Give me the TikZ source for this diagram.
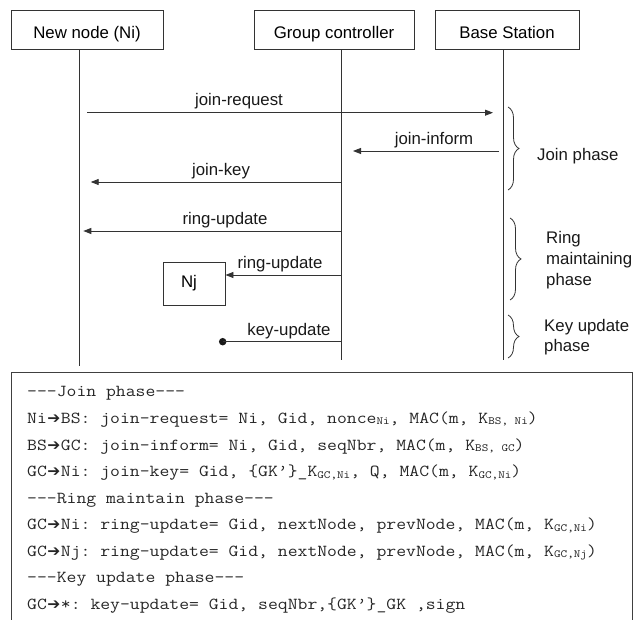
\documentclass[tikz,border=0pt]{standalone}
\usepackage{fontspec}
\setmainfont{Liberation Sans}
\setmonofont{Latin Modern Mono}[FakeStretch=1.14]
\newfontfamily\arrowfont{DejaVu Sans}
\usetikzlibrary{arrows.meta,decorations.pathreplacing}
\newcommand\myarr{\makebox[14pt][c]{\arrowfont\fontsize{15.5}{15.5}\selectfont ➔}}
\newcommand\subs[1]{\raisebox{-1.5pt}{\fontsize{11}{11}\selectfont #1}}
\begin{document}
\begin{tikzpicture}[x=1pt,y=-1pt,
  lc/.style={draw=black!80, line width=0.9pt},
  head/.style={draw=black!80, line width=0.9pt, minimum height=39pt, inner sep=0pt, text height=19pt, text depth=0pt, font=\fontsize{16.8}{20}\selectfont},
  msg/.style={draw=black!80, line width=0.9pt, -{Triangle[length=8pt,width=6pt]}},
  lbl/.style={font=\fontsize{16.8}{20}\selectfont, inner sep=0pt, text=black!90},
  mono/.style={anchor=base west, inner sep=0pt, font=\ttfamily\fontsize{16.8}{20}\selectfont, text=black!85},
  brc/.style={decorate, decoration={brace, amplitude=11pt}, draw=black!80, line width=0.8pt}
]
\useasboundingbox (0,0) rectangle (635,620);

% headers
\node[head, minimum width=152pt] (ni) at (87,29.5) {New node (Ni)};
\node[head, minimum width=160pt] (gc) at (334,29.5) {Group controller};
\node[head, minimum width=144pt] (bs) at (507,29.5) {Base Station};

% lifelines
\coordinate (niB) at (79.5,366);
\coordinate (gcB) at (341,360);
\coordinate (bsB) at (503,360);
\draw[lc] (niB |- ni.south) -- (niB);
\draw[lc] (gcB |- gc.south) -- (gcB);
\draw[lc] (bsB |- bs.south) -- (bsB);

% join-request
\coordinate (jrA) at (87,112.7); \coordinate (jrB) at (493,112.7);
\draw[msg] (jrA) -- (jrB);
\node[lbl, anchor=base] (jrL) at (239,106) {join-request};

% join-inform
\coordinate (jiA) at (499,151); \coordinate (jiB) at (353,151);
\draw[msg] (jiA) -- (jiB);
\node[lbl, anchor=base] (jiL) at (434,145) {join-inform};

% join-key
\coordinate (jkA) at (341,182); \coordinate (jkB) at (90.7,182);
\draw[msg] (jkA) -- (jkB);
\node[lbl, anchor=base] (jkL) at (221,176) {join-key};

% ring-update 1
\coordinate (r1A) at (341,231); \coordinate (r1B) at (83.3,231);
\draw[msg] (r1A) -- (r1B);
\node[lbl, anchor=base] (r1L) at (225,224.5) {ring-update};

% Nj and ring-update 2
\node[draw=black!80, line width=0.9pt, minimum width=62pt, minimum height=43pt, inner sep=0pt, font=\fontsize{16.8}{20}\selectfont] (nj) at (194,283.5) {\hspace*{-10pt}Nj};
\coordinate (r2A) at (341,275);
\draw[msg] (r2A) -- (r2A -| nj.east);
\node[lbl, anchor=base] (r2L) at (280,268.5) {ring-update};

% key-update
\node[circle, fill=black!90, inner sep=0pt, minimum size=7.5pt] (dot) at (222.7,341.7) {};
\coordinate (kuA) at (341,341.7);
\draw[lc] (kuA) -- (dot.center);
\node[lbl, anchor=base] (kuL) at (289,335.5) {key-update};

% braces
\coordinate (b1a) at (508,107); \coordinate (b1b) at (508,190);
\draw[brc] (b1a) -- (b1b);
\node[lbl, anchor=west] (p1) at (537,156) {Join phase};
\coordinate (b2a) at (510,218); \coordinate (b2b) at (510,300);
\draw[brc] (b2a) -- (b2b);
\node[lbl, anchor=west, align=left, font=\fontsize{16.8}{21}\selectfont] (p2) at (546,260) {Ring\\maintaining\\phase};
\coordinate (b3a) at (508,315); \coordinate (b3b) at (508,358);
\draw[brc] (b3a) -- (b3b);
\node[lbl, anchor=west, align=left, font=\fontsize{16.8}{19.5}\selectfont] (p3) at (544,337) {Key update\\phase};

% bottom text box
\draw[draw=black!75, line width=1pt] (11,621) -- (11,373) -- (632,373) -- (632,621);
\node[mono] (t1) at (27,397) {---Join phase---};
\node[mono] (t2) at (27,423.5) {Ni\myarr BS: join-request= Ni, Gid, nonce\subs{Ni}, MAC(m, K\subs{BS, Ni})};
\node[mono] (t3) at (27,450) {BS\myarr GC: join-inform= Ni, Gid, seqNbr, MAC(m, K\subs{BS, GC})};
\node[mono] (t4) at (27,476.5) {GC\myarr Ni: join-key= Gid, \{GK’\}\_K\subs{GC,Ni}, Q, MAC(m, K\subs{GC,Ni})};
\node[mono] (t5) at (27,503) {---Ring maintain phase---};
\node[mono] (t6) at (27,529.5) {GC\myarr Ni: ring-update= Gid, nextNode, prevNode, MAC(m, K\subs{GC,Ni})};
\node[mono] (t7) at (27,556) {GC\myarr Nj: ring-update= Gid, nextNode, prevNode, MAC(m, K\subs{GC,Nj})};
\node[mono] (t8) at (27,582.5) {---Key update phase---};
\node[mono] (t9) at (27,609) {GC\myarr *: key-update= Gid, seqNbr,\{GK’\}\_GK ,sign};
\end{tikzpicture}
\end{document}
